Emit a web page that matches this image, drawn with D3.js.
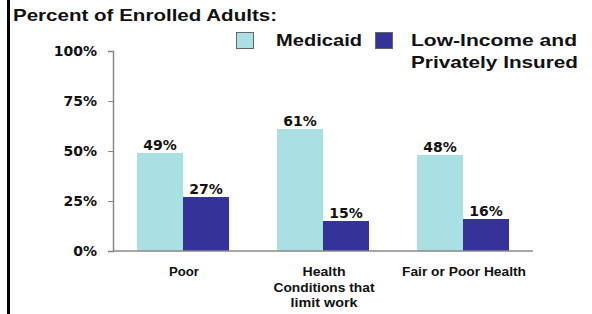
<!DOCTYPE html>
<html>
<head>
<meta charset="utf-8">
<script src="https://cdn.jsdelivr.net/npm/d3@7"></script>
<style>
  body { margin: 0; background: #fff; }
  svg { display: block; }
  .num { font-family: "DejaVu Sans", Verdana, sans-serif; font-weight: bold; fill: #111; }
  .lbl { font-family: Arial, "Liberation Sans", sans-serif; font-weight: bold; fill: #111; }
</style>
</head>
<body>
<div id="chart"></div>
<script>
// chart data
let categories = ["Poor", "Health Conditions that limit work", "Fair or Poor Health"];
let categoryLines = [["Poor"], ["Health", "Conditions that", "limit work"], ["Fair or Poor Health"]];
let seriesNames = ["Medicaid", "Low-Income and Privately Insured"];
let seriesLines = [["Medicaid"], ["Low-Income and", "Privately Insured"]];
let medicaid = [49, 61, 48];
let lowIncome = [27, 15, 16];
let yTicks = [0, 25, 50, 75, 100];

// styling (the source text is rendered wide, so line widths are fitted)
let colors = ["#aadfe3", "#33339a"];
let xLabelWidths = [[30], [43, 101, 67], [124]];
let legendWidths = [[86], [166, 167]];

let width = 592, height = 314;
let margin = {top: 51, right: 59, bottom: 63, left: 113};
let innerW = width - margin.left - margin.right;
let innerH = height - margin.top - margin.bottom;

let svg = d3.select("#chart").append("svg")
    .attr("width", width)
    .attr("height", height);

// left frame line
svg.append("line")
    .attr("x1", 8.5).attr("x2", 8.5)
    .attr("y1", 0).attr("y2", height)
    .attr("stroke", "#000").attr("stroke-width", 3);

// title
svg.append("text")
    .attr("class", "lbl")
    .attr("x", 13).attr("y", 21)
    .style("font-size", "17px")
    .attr("textLength", 264).attr("lengthAdjust", "spacingAndGlyphs")
    .text("Percent of Enrolled Adults:");

let g = svg.append("g").attr("transform", `translate(${margin.left},${margin.top})`);

let x = d3.scaleBand().domain(categories).range([0, innerW])
    .paddingInner(0.343).paddingOuter(0.1715);
let y = d3.scaleLinear().domain([0, 100]).range([innerH, 0]);

let data = categories.map((c, i) => ({cat: c, values: [medicaid[i], lowIncome[i]]}));

// bars
let groups = g.selectAll(".grp").data(data).enter().append("g")
    .attr("class", "grp")
    .attr("transform", d => `translate(${x(d.cat)},0)`);

let bw = x.bandwidth() / 2;
groups.selectAll("rect").data(d => d.values).enter().append("rect")
    .attr("x", (d, i) => i * bw)
    .attr("y", d => y(d))
    .attr("width", bw)
    .attr("height", d => innerH - y(d))
    .attr("fill", (d, i) => colors[i]);

groups.selectAll(".val").data(d => d.values).enter().append("text")
    .attr("class", "num val")
    .attr("x", (d, i) => i * bw + bw / 2)
    .attr("y", d => y(d) - 3)
    .attr("text-anchor", "middle")
    .style("font-size", "14px")
    .text(d => d + "%");

// y axis
let yAxis = g.append("g")
    .call(d3.axisLeft(y).tickValues(yTicks).tickSize(5).tickFormat(d => d + "%"));
yAxis.select(".domain").attr("stroke", "#888").attr("stroke-width", 1.5);
yAxis.selectAll(".tick line").attr("stroke", "#888");
yAxis.selectAll(".tick text").attr("class", "num").attr("x", -16).style("font-size", "14px");

// x axis
g.append("line")
    .attr("x1", 0).attr("x2", innerW)
    .attr("y1", innerH).attr("y2", innerH)
    .attr("stroke", "#888").attr("stroke-width", 1.5);

categories.forEach((c, i) => {
    let cx = x(c) + x.bandwidth() / 2 + 1;
    categoryLines[i].forEach((line, j) => {
        g.append("text")
            .attr("class", "lbl")
            .attr("x", cx).attr("y", innerH + 25 + j * 15.5)
            .attr("text-anchor", "middle")
            .style("font-size", "12.5px")
            .attr("textLength", xLabelWidths[i][j]).attr("lengthAdjust", "spacingAndGlyphs")
            .text(line);
    });
});

// legend
let legend = svg.append("g");
let legX = [236, 375];
let legTextX = [276, 411];
seriesNames.forEach((s, i) => {
    legend.append("rect")
        .attr("x", legX[i] + 0.5).attr("y", 32.5)
        .attr("width", 17).attr("height", 16)
        .attr("fill", colors[i]).attr("stroke", "#666");
    seriesLines[i].forEach((line, j) => {
        legend.append("text")
            .attr("class", "lbl")
            .attr("x", legTextX[i]).attr("y", 46 + j * 22)
            .style("font-size", "16.5px")
            .attr("textLength", legendWidths[i][j]).attr("lengthAdjust", "spacingAndGlyphs")
            .text(line);
    });
});
</script>
</body>
</html>
